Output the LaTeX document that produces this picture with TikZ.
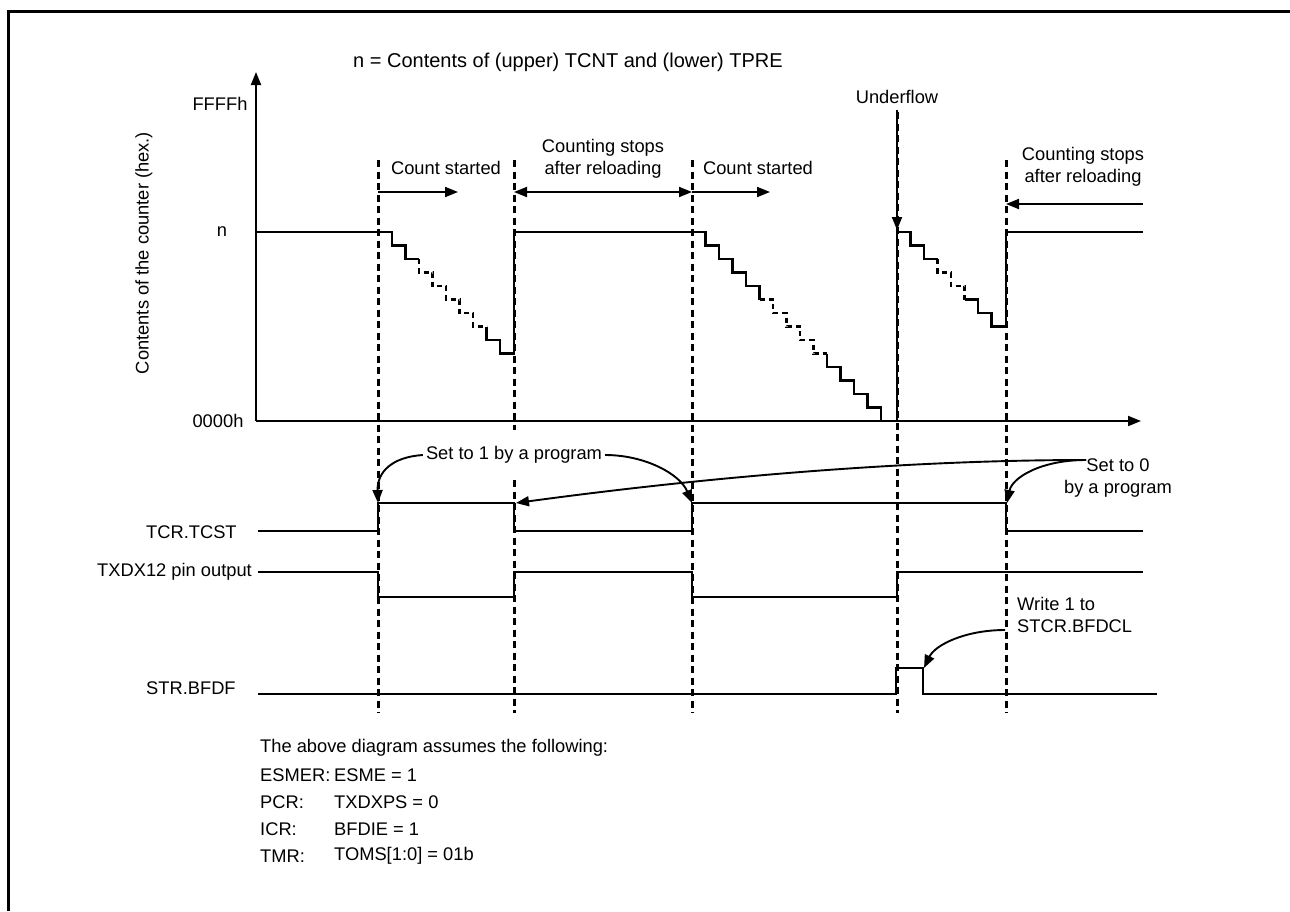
\documentclass[tikz,border=0pt]{standalone}
\usepackage{fontspec}
\setmainfont{Liberation Sans}
\usetikzlibrary{arrows.meta}
\begin{document}
\begin{tikzpicture}[x=1pt,y=-1pt,
 lbl/.style={font=\fontsize{18.3}{21.5}\selectfont,inner sep=0pt},
 wave/.style={line width=2.2pt},
 dwave/.style={line width=2.6pt,dash pattern=on 5pt off 4pt},
 guide/.style={line width=3pt,dash pattern=on 7pt off 4.5pt},
 tipstyle/.style={-{Triangle[length=13pt,width=10pt]}},
 conn/.style={line width=1.9pt,tipstyle},
 dconn/.style={line width=1.9pt,{Triangle[length=13pt,width=10pt]}-{Triangle[length=13pt,width=10pt]}}]
\useasboundingbox (0,0) rectangle (1290,911);
\draw[line width=3.2pt] (8.7,911) -- (8.7,11.7) -- (1290,11.7);

% guide coordinates
\coordinate (g1t) at (378,160); \coordinate (g1b) at (378,713);
\coordinate (g2t) at (514,160); \coordinate (g2m) at (514,430);
\coordinate (g2n) at (514,480); \coordinate (g2b) at (514,713);
\coordinate (g3t) at (692,160); \coordinate (g3b) at (692,713);
\coordinate (g4t) at (897,112); \coordinate (g4b) at (897,713);
\coordinate (g5t) at (1006,160); \coordinate (g5b) at (1006,713);
\draw[guide] (g1t) -- (g1b);
\draw[guide] (g2t) -- (g2m);
\draw[guide] (g2n) -- (g2b);
\draw[guide] (g3t) -- (g3b);
\draw[guide] (g4t) -- (g4b);
\draw[guide] (g5t) -- (g5b);

% axes
\coordinate (O) at (256,421);
\coordinate (ytip) at (256,72);
\coordinate (xtip) at (1141,421);
\draw[line width=2pt,tipstyle] (O) -- (ytip);
\draw[line width=2pt,tipstyle] (O) -- (xtip);

% texts
\node[lbl,font=\fontsize{20}{24}\selectfont] (title) at (568,62) {n = Contents of (upper) TCNT and (lower) TPRE};
\node[lbl] (ffff) at (220,104) {FFFFh};
\node[lbl] (nlab) at (222,232) {n};
\node[lbl] (zero) at (218,421) {0000h};
\node[lbl,rotate=90] (ylab) at (144,253) {Contents of the counter (hex.)};
\node[lbl] (cs1) at (446,168) {Count started};
\node[lbl,align=center] (stop1) at (603,159) {Counting stops\\after reloading};
\node[lbl] (cs2) at (758,168) {Count started};
\node[lbl] (uf) at (897,97) {Underflow};
\node[lbl,align=center] (stop2) at (1083,167) {Counting stops\\after reloading};

% counter waveform
\draw[wave] (257,232) -- (392,232)
  -- ++(0,13.5) -- ++(13.5,0) -- ++(0,13.5) -- ++(13.5,0);
\draw[dwave] (419,259) foreach \i in {1,...,5} { -- ++(0,13.5) -- ++(13.5,0) };
\draw[wave] (486.5,326.5) -- ++(0,13.5) -- ++(13.5,0) -- ++(0,13.5) -- (514,353.5)
  -- (514,232) -- (705.5,232)
  foreach \i in {1,...,4} { -- ++(0,13.5) -- ++(13.5,0) } -- ++(0,13.5);
\draw[dwave] (759.5,299.5) -- ++(13.5,0) foreach \i in {1,...,4} { -- ++(0,13.5) -- ++(13.5,0) };
\draw[wave] (827,353.5) foreach \i in {1,...,4} { -- ++(0,13.5) -- ++(13.5,0) } -- ++(0,13.5)
  -- (897,421) -- (897,232) -- (910.5,232)
  -- ++(0,13.5) -- ++(13.5,0) -- ++(0,13.5) -- ++(13.5,0);
\draw[dwave] (937.5,259) -- ++(0,13.5) -- ++(13.5,0) -- ++(0,13.5) -- ++(13.5,0) -- ++(0,13.5);
\draw[wave] (964.5,299.5) -- ++(13.5,0) -- ++(0,13.5) -- ++(13.5,0) -- ++(0,13.5) -- (1006,326.5)
  -- (1006,232) -- (1143,232);

% period arrows
\coordinate (a1s) at (378,192); \coordinate (a1e) at (458,192);
\coordinate (a2s) at (514,192); \coordinate (a2e) at (692,192);
\coordinate (a3s) at (692,192); \coordinate (a3e) at (770,192);
\coordinate (a4s) at (1143,204); \coordinate (a4e) at (1006,204);
\coordinate (uft) at (897,230);
\draw[conn] (a1s) -- (a1e);
\draw[dconn] (a2s) -- (a2e);
\draw[conn] (a3s) -- (a3e);
\draw[conn] (a4s) -- (a4e);
\draw[conn] (uf.south) ++(0,6) -- (uft);

% signal labels
\node[lbl,anchor=west] (tcst) at (146,532) {TCR.TCST};
\node[lbl,anchor=west] (txdx) at (97,572) {TXDX12 pin output};
\node[lbl,anchor=west] (bfdf) at (146,688) {STR.BFDF};

% TCR.TCST
\draw[wave] (258,531) -- (378,531) -- (378,503) -- (514,503) -- (514,531) -- (692,531)
  -- (692,503) -- (1006,503) -- (1006,531) -- (1143,531);
% TXDX12
\draw[wave] (258,572) -- (378,572) -- (378,597) -- (514,597) -- (514,572) -- (692,572)
  -- (692,597) -- (897,597) -- (897,572) -- (1143,572);
% STR.BFDF
\draw[wave] (258,694) -- (896,694) -- (896,668) -- (923,668) -- (923,694) -- (1157,694);

% program annotations
\node[lbl,fill=white,inner sep=3pt] (set1) at (514,455) {Set to 1 by a program};
\node[lbl,align=center] (set0) at (1118,478) {Set to 0\\by a program};
\coordinate (s0) at (1086,460);
\coordinate (t1) at (378,503); \coordinate (t2) at (692,503);
\coordinate (t3) at (516,503); \coordinate (t4) at (1007,503);
\draw[conn] (set1.west) .. controls (392,457) and (377,472) .. (t1);
\draw[conn] (set1.east) .. controls (645,455) and (680,474) .. (t2);
\draw[conn] (s0) .. controls (900,460) and (700,478) .. (t3);
\draw[conn] (s0) .. controls (1040,460) and (1012,478) .. (t4);

\node[lbl,anchor=west,align=left] (wr) at (1017,615) {Write 1 to\\STCR.BFDCL};
\coordinate (w0) at (1005,630); \coordinate (w1) at (924,668);
\draw[conn] (w0) .. controls (965,630) and (935,645) .. (w1);

% assumptions
\node[lbl,anchor=west] (as0) at (260,748) {The above diagram assumes the following:};
\node[lbl,anchor=west] (as1a) at (260,775) {ESMER:};
\node[lbl,anchor=west] (as1b) at (334,775) {ESME = 1};
\node[lbl,anchor=west] (as2a) at (260,802) {PCR:};
\node[lbl,anchor=west] (as2b) at (334,802) {TXDXPS = 0};
\node[lbl,anchor=west] (as3a) at (260,829) {ICR:};
\node[lbl,anchor=west] (as3b) at (334,829) {BFDIE = 1};
\node[lbl,anchor=west] (as4a) at (260,856) {TMR:};
\node[lbl,anchor=west] (as4b) at (334,856) {TOMS[1:0] = 01b};
\end{tikzpicture}
\end{document}
